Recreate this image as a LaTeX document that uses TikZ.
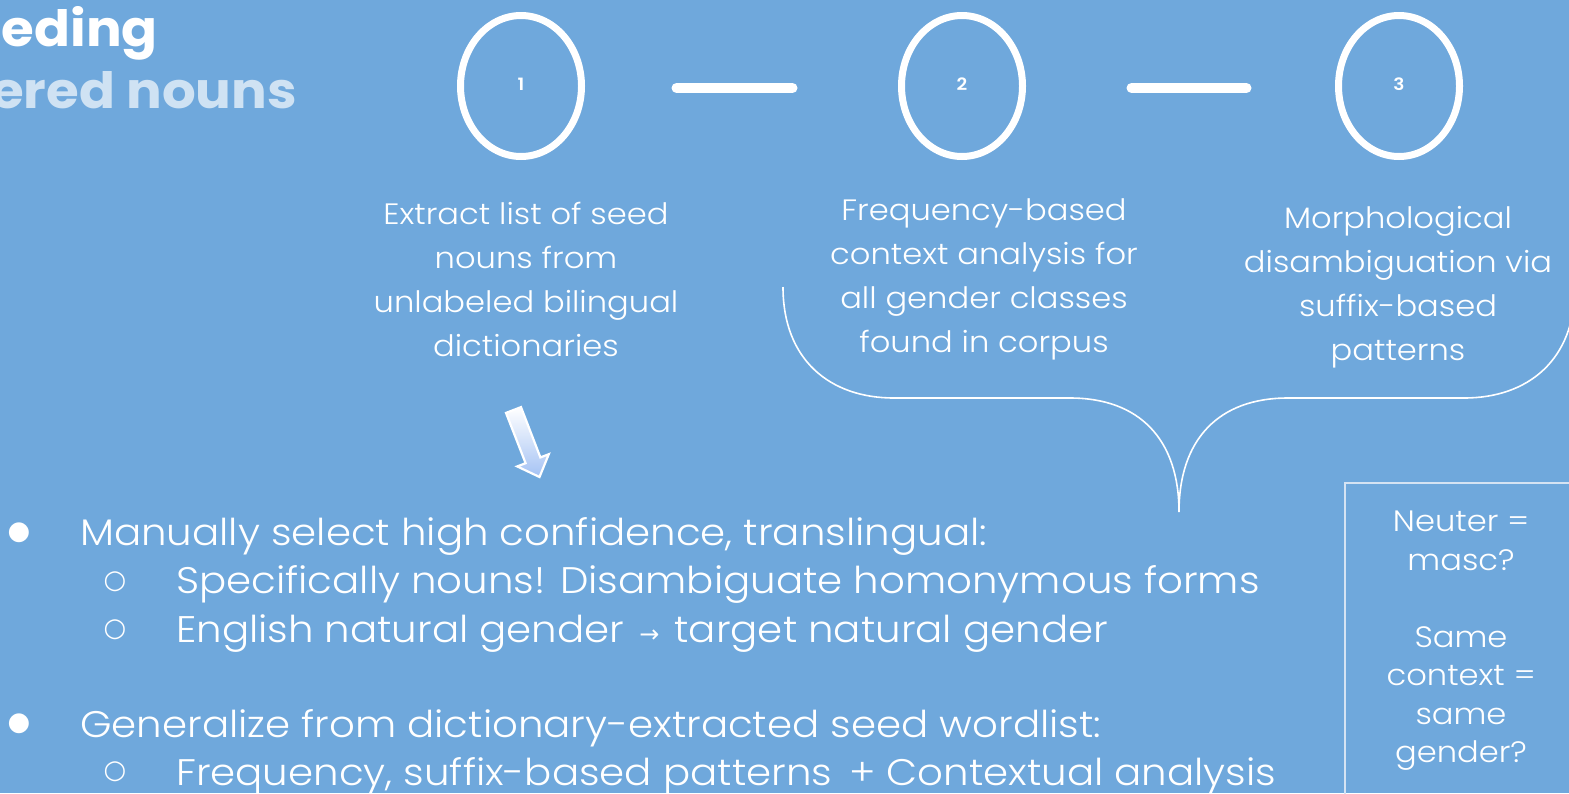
\documentclass[tikz,border=0pt]{standalone}
\usepackage{fontspec}
\setmainfont{Poppins}[UprightFont=* Light, BoldFont=* SemiBold, FakeStretch=1.09]
\newfontfamily\titlefont{Poppins}[UprightFont=* Bold, FakeStretch=1.06]
\newfontfamily\symfont{DejaVu Sans}
\usetikzlibrary{shapes.geometric,calc}
\definecolor{bgblue}{HTML}{6FA8DC}
\definecolor{palelbl}{HTML}{CFE2F3}
\definecolor{boxline}{HTML}{D5E3F3}
\definecolor{arrowend}{HTML}{A4C2F4}
\begin{document}
\begin{tikzpicture}[x=1pt,y=-1pt,
  numcircle/.style={draw=white, line width=7pt, ellipse, minimum width=121pt, minimum height=141pt, inner sep=0pt, text=white, font=\fontsize{17}{18}\selectfont\bfseries},
  bar/.style={draw=white, line width=10pt, line cap=round},
  steptext/.style={text=white, align=center, inner sep=0pt, font=\fontsize{29.5}{44}\selectfont},
  bullettext/.style={text=white, anchor=base west, inner sep=0pt, font=\fontsize{37}{40}\selectfont},
  bulletmark/.style={text=white, inner sep=0pt, font=\symfont\fontsize{26}{28}\selectfont},
  boxtext/.style={text=white, align=center, inner sep=0pt, font=\fontsize{29.5}{38.5}\selectfont},
  titletext/.style={anchor=base east, inner sep=0pt, font=\titlefont\fontsize{50}{54}\selectfont}]
\useasboundingbox (0,0) rectangle (1569,793);
\fill[bgblue] (0,0) rectangle (1569,793);
\clip (0,0) rectangle (1569,793);

% title
\node[titletext, text=white] (t1) at (158,46) {eding};
\node[titletext, text=palelbl] (t2) at (297,108) {ered nouns};

% steps
\node[numcircle] (c1) at (521,86) {\raisebox{3pt}{1}};
\node[numcircle] (c2) at (962,86) {\raisebox{3pt}{2}};
\node[numcircle] (c3) at (1399,86) {\raisebox{3pt}{3}};
\draw[bar, shorten <=91.5pt, shorten >=105.5pt] ([yshift=-2pt]c1.east) -- ([yshift=-2pt]c2.west);
\draw[bar, shorten <=105.5pt, shorten >=88.5pt] ([yshift=-2pt]c2.east) -- ([yshift=-2pt]c3.west);

\node[steptext] (s1) at (526,279) {Extract list of seed\\nouns from\\unlabeled bilingual\\dictionaries};
\node[steptext] (s2) at (984,279) {Frequency-based\\context analysis for\\all gender classes\\found in corpus};
\node[steptext] (s3) at (1398,287) {Morphological\\disambiguation via\\suffix-based\\patterns};

% brace
\draw[white, line width=1.6pt] (783,287) .. controls (783,360) and (830,398) .. (894,398)
  -- (1070,398) .. controls (1140,398) and (1179,440) .. (1179,512)
  .. controls (1179,440) and (1218,398) .. (1288,398)
  -- (1464,398) .. controls (1528,398) and (1575,360) .. (1575,287);

% block arrow
\draw[white, line width=2.2pt, line join=miter, top color=white, bottom color=arrowend]
  (506.0,412.9) -- (521.0,407.1) -- (540.4,457.4) -- (548.8,454.2) -- (539.5,477)
  -- (517.2,466.4) -- (525.6,463.2) -- cycle;

% bullets
\node[bulletmark] (b1) at (19,533) {●};
\node[bullettext] (l1) at (80,545) {Manually select high confidence, translingual:};
\node[bulletmark] (b2) at (115,582) {○};
\node[bullettext] (l2) at (176,593) {Specifically nouns! Disambiguate homonymous forms};
\node[bulletmark] (b3) at (115,630) {○};
\node[bullettext] (l3) at (176,642) {English natural gender\hspace{4pt} {\symfont\fontsize{24}{26}\selectfont →}\hspace{4pt} target natural gender};
\node[bulletmark] (b4) at (19,724) {●};
\node[bullettext] (l4) at (80,737) {Generalize from dictionary-extracted seed wordlist:};
\node[bulletmark] (b5) at (115,772) {○};
\node[bullettext] (l5) at (176,785) {Frequency, suffix-based patterns\hspace{6pt} + Contextual analysis};

% side box
\draw[boxline, line width=1.5pt] (1345,483) rectangle (1600,820);
\node[boxtext] (q) at (1461,641) {Neuter =\\masc?\\[38.5pt]Same\\context =\\same\\gender?};
\end{tikzpicture}
\end{document}
